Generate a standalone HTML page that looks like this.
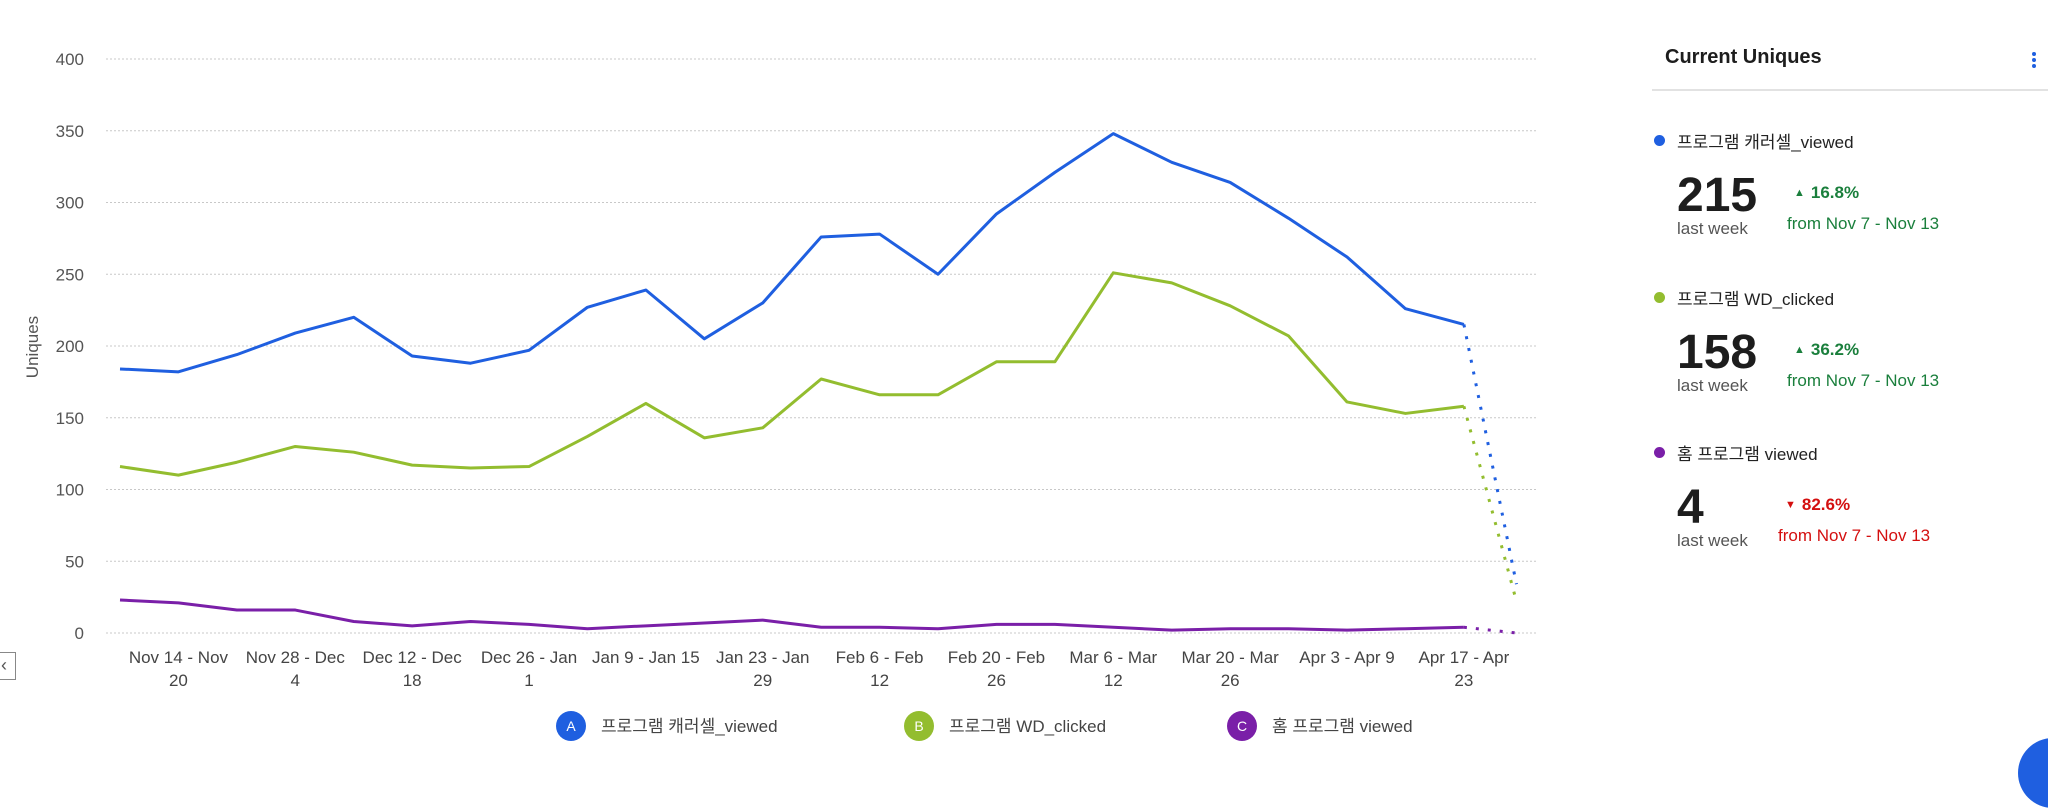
<!DOCTYPE html>
<html><head><meta charset="utf-8">
<style>
body{margin:0;width:2048px;height:753px;background:#fff;overflow:hidden;font-family:"Liberation Sans","Noto Sans CJK KR",sans-serif;position:relative}
svg text{font-family:"Liberation Sans","Noto Sans CJK KR",sans-serif}
.panel{position:absolute;left:1652px;top:0;width:396px;height:753px}
.ttl{position:absolute;left:13px;top:46px;font-size:20px;font-weight:bold;color:#1d1d1d}
.div{position:absolute;left:0;top:89px;width:396px;height:2px;background:#e2e2e2}
.menu{position:absolute;left:380px;top:52px;width:4px}
.menu i{display:block;width:4px;height:4px;border-radius:2px;background:#1f5fe0;margin-bottom:2px}
.item{position:absolute;left:0;width:396px;height:150px}
.dot{position:absolute;left:2px;top:7px;width:11px;height:11px;border-radius:50%}
.name{position:absolute;left:25px;top:0;font-size:17px;color:#222}
.big{position:absolute;left:25px;top:44px;font-size:48px;font-weight:bold;color:#1d1d1d;line-height:1}
.lw{position:absolute;left:25px;top:91px;font-size:17px;color:#555}
.pct{position:absolute;left:142px;top:55px;font-size:17px;font-weight:bold}
.pct small{font-size:11px;margin-right:6px;position:relative;top:-2px}
.from{position:absolute;left:135px;top:86px;font-size:17px}
.g{color:#1a7f3c}.r{color:#d40f0f}
</style></head><body>
<svg id="chart" width="1560" height="753" style="position:absolute;left:0;top:0"></svg>
<div style="position:absolute;left:-12px;top:652px;width:26px;height:26px;border:1px solid #888;"><span style="position:absolute;left:12px;top:2px;font-size:18px;color:#555">‹</span></div>
<div class="panel">
 <div class="ttl">Current Uniques</div>
 <div class="menu"><i></i><i></i><i></i></div>
 <div class="div"></div>
 <div class="item" style="top:128px">
  <div class="dot" style="background:#1f5fe0"></div><div class="name">프로그램 캐러셀_viewed</div>
  <div class="big">215</div><div class="lw">last week</div>
  <div class="pct g"><small>▲</small>16.8%</div><div class="from g">from Nov 7 - Nov 13</div>
 </div>
 <div class="item" style="top:285px">
  <div class="dot" style="background:#93bd2f"></div><div class="name">프로그램 WD_clicked</div>
  <div class="big">158</div><div class="lw">last week</div>
  <div class="pct g"><small>▲</small>36.2%</div><div class="from g">from Nov 7 - Nov 13</div>
 </div>
 <div class="item" style="top:440px">
  <div class="dot" style="background:#7a1fa8"></div><div class="name">홈 프로그램 viewed</div>
  <div class="big">4</div><div class="lw">last week</div>
  <div class="pct r" style="left:133px"><small>▼</small>82.6%</div><div class="from r" style="left:126px">from Nov 7 - Nov 13</div>
 </div>
 <div style="position:absolute;left:366px;top:738px;width:70px;height:70px;border-radius:50%;background:#1f5fe0"></div>
</div>
<script>
const categories=["Nov 7 - Nov 13","Nov 14 - Nov 20","Nov 21 - Nov 27","Nov 28 - Dec 4","Dec 5 - Dec 11","Dec 12 - Dec 18","Dec 19 - Dec 25","Dec 26 - Jan 1","Jan 2 - Jan 8","Jan 9 - Jan 15","Jan 16 - Jan 22","Jan 23 - Jan 29","Jan 30 - Feb 5","Feb 6 - Feb 12","Feb 13 - Feb 19","Feb 20 - Feb 26","Feb 27 - Mar 5","Mar 6 - Mar 12","Mar 13 - Mar 19","Mar 20 - Mar 26","Mar 27 - Apr 2","Apr 3 - Apr 9","Apr 10 - Apr 16","Apr 17 - Apr 23"];
const seriesA=[184,182,194,209,220,193,188,197,227,239,205,230,276,278,250,292,321,348,328,314,289,262,226,215];
const seriesB=[116,110,119,130,126,117,115,116,137,160,136,143,177,166,166,189,189,251,244,228,207,161,153,158];
const seriesC=[23,21,16,16,8,5,8,6,3,5,7,9,4,4,3,6,6,4,2,3,3,2,3,4];
const partialA=34, partialB=22, partialC=0;
const yTicks=[0,50,100,150,200,250,300,350,400];
const labelLines=[["Nov 14 - Nov","20"],["Nov 28 - Dec","4"],["Dec 12 - Dec","18"],["Dec 26 - Jan","1"],["Jan 9 - Jan 15",""],["Jan 23 - Jan","29"],["Feb 6 - Feb","12"],["Feb 20 - Feb","26"],["Mar 6 - Mar","12"],["Mar 20 - Mar","26"],["Apr 3 - Apr 9",""],["Apr 17 - Apr","23"]];
const legendNames=["프로그램 캐러셀_viewed","프로그램 WD_clicked","홈 프로그램 viewed"];
const NS="http://www.w3.org/2000/svg";
const svg=document.getElementById('chart');
const X0=120,STEP=58.43,Y0=633,YPX=574/400,GL=106,GR=1537;
const x=i=>X0+i*STEP, y=v=>Y0-v*YPX;
function mk(t,a,p){const e=document.createElementNS(NS,t);for(const k in a)e.setAttribute(k,a[k]);(p||svg).appendChild(e);return e;}
yTicks.forEach(t=>{
 const l=mk('line',{x1:GL,x2:GR,y1:y(t),y2:y(t),stroke:'#c8c8c8','stroke-width':1,'stroke-dasharray':'2,2'});
 
 
 const tx=mk('text',{x:84,y:y(t)+6,'text-anchor':'end','font-size':17,fill:'#555'});tx.textContent=t;
 
 
});
const yt=mk('text',{x:0,y:0,'text-anchor':'middle','font-size':17,fill:'#555',transform:'translate(38,347) rotate(-90)'});yt.textContent='Uniques';


labelLines.forEach((ll,k)=>{
 const i=1+2*k;
 const t=mk('text',{x:x(i),y:663,'text-anchor':'middle','font-size':17,fill:'#444'});t.textContent=ll[0];
 
 
 if(ll[1]){const t2=mk('text',{x:x(i),y:686,'text-anchor':'middle','font-size':17,fill:'#444'});t2.textContent=ll[1];
 
 }
});
const colors=['#1f5fe0','#93bd2f','#7a1fa8'];
[[seriesA,partialA],[seriesB,partialB],[seriesC,partialC]].forEach(([s,p],si)=>{
 const d=s.map((v,i)=>(i?'L':'M')+x(i)+','+y(v)).join(' ');
 const pl=mk('path',{d:d,fill:'none',stroke:colors[si],'stroke-width':3,'stroke-linejoin':'round'});
 
 
 const n=s.length-1;
 const dl=mk('line',{x1:x(n),y1:y(s[n]),x2:x(n+0.9),y2:y(p),stroke:colors[si],'stroke-width':3,'stroke-dasharray':'3,9'});
 
 
});
const lx=[571,919,1242];
legendNames.forEach((nm,i)=>{
 const g=mk('g',{});
 
 
 mk('circle',{cx:lx[i],cy:726,r:15,fill:colors[i]},g);
 const a=mk('text',{x:lx[i],y:731,'text-anchor':'middle','font-size':14,fill:'#fff'},g);a.textContent='ABC'[i];
 const t=mk('text',{x:lx[i]+30,y:732,'font-size':17,fill:'#444'},g);t.textContent=nm;
});
</script>
</body></html>
